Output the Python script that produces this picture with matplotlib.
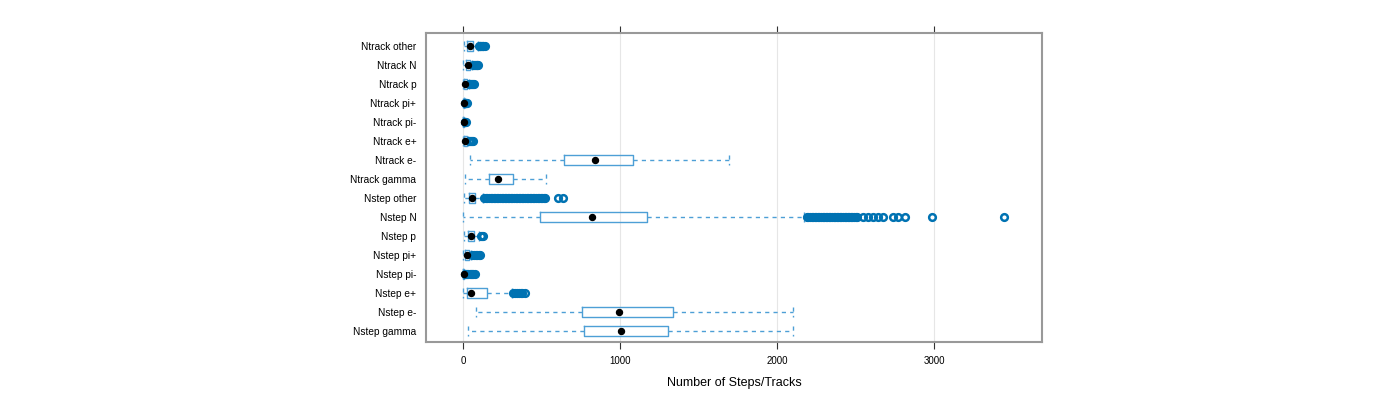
import matplotlib.pyplot as plt
import numpy as np

plt.rcParams['font.family'] = ['Liberation Sans', 'DejaVu Sans']

# rows from top to bottom
labels = ["Ntrack other", "Ntrack N", "Ntrack p", "Ntrack pi+", "Ntrack pi-", "Ntrack e+",
          "Ntrack e-", "Ntrack gamma", "Nstep other", "Nstep N", "Nstep p", "Nstep pi+",
          "Nstep pi-", "Nstep e+", "Nstep e-", "Nstep gamma"]

whislo = [3, 2, 1, 0, 0, 1, 45, 15, 5, 0, 5, 2, 0, 2, 83, 30]
q1 = [25, 18, 7, 3, 2, 6, 640, 168, 35, 490, 30, 12, 1, 27, 756, 770]
med = [45, 30, 15, 5, 4, 15, 840, 223, 60, 822, 51, 23, 3, 51, 992, 1006]
q3 = [65, 42, 24, 7, 6, 26, 1085, 317, 77, 1170, 70, 38, 5, 151, 1338, 1305]
whishi = [95, 58, 36, 10, 9, 34, 1695, 527, 125, 2170, 100, 50, 7, 310, 2105, 2105]

fliers = [
    [100, 105, 110, 115, 120, 125, 130, 138],
    [62, 68, 74, 80, 86, 92, 98],
    [40, 46, 52, 58, 64, 70],
    [12, 16, 20, 24],
    [11, 15, 19],
    [38, 44, 50, 56, 62],
    [],
    [],
    [135, 145, 155, 165, 175, 185, 195, 205, 215, 225, 235, 245, 255, 265, 275, 285, 295,
     305, 315, 325, 335, 345, 355, 365, 375, 385, 395, 405, 415, 425, 435, 445, 455, 465,
     475, 485, 495, 505, 515, 525, 605, 637],
    [2190, 2200, 2210, 2220, 2230, 2240, 2250, 2260, 2270, 2280, 2290, 2300, 2310, 2320,
     2330, 2340, 2350, 2360, 2370, 2380, 2390, 2400, 2410, 2420, 2430, 2440, 2450, 2460,
     2470, 2480, 2490, 2500, 2510, 2550, 2582, 2614, 2645, 2677,
     2741, 2773, 2815, 2987, 3446],
    [115, 122, 130],
    [60, 70, 80, 90, 100, 108],
    [10, 18, 26, 34, 42, 50, 58, 66, 75],
    [318, 330, 342, 354, 366, 378, 392],
    [],
    [],
]

box_col = "#4d9fd6"
pt_col = "#0072b2"

stats = []
for i in range(len(labels)):
    stats.append(dict(label=labels[i], whislo=whislo[i], q1=q1[i], med=med[i], q3=q3[i],
                      whishi=whishi[i], mean=med[i], fliers=fliers[i]))

fig = plt.figure(figsize=(14, 4), dpi=100)
ax = fig.add_axes([426 / 1400, 1 - 342 / 400, 616 / 1400, 309 / 400])

pos = np.arange(len(labels))
ax.bxp(stats, positions=pos, vert=False, widths=0.53, showmeans=True,
       boxprops=dict(color=box_col, linewidth=1.0),
       whiskerprops=dict(color=box_col, linewidth=1.0, linestyle=(0, (3, 3))),
       capprops=dict(color=box_col, linewidth=1.0, linestyle=(0, (3, 3))),
       medianprops=dict(linewidth=0),
       meanprops=dict(marker='o', markerfacecolor='black', markeredgecolor='black', markersize=4.3),
       flierprops=dict(marker='o', markerfacecolor='none', markeredgecolor=pt_col,
                       markersize=4.8, markeredgewidth=1.8),
       capwidths=0.53)

ax.set_xlim(-236, 3688)
ax.set_ylim(15.6, -0.68)
ax.set_xticks([0, 1000, 2000, 3000])
ax.set_yticks(pos)
ax.set_yticklabels(labels, fontsize=7.3)
ax.tick_params(axis='y', length=0, pad=7)
ax.tick_params(axis='x', direction='out', length=5, width=0.8, color='#333333',
               top=True, bottom=True, labelsize=7, pad=5)
ax.grid(axis='x', color='#e6e6e6', linewidth=0.8)
ax.set_axisbelow(True)
for s in ax.spines.values():
    s.set_color('#999999')
    s.set_linewidth(1.5)

ax.set_xlabel("Number of Steps/Tracks", fontsize=9, labelpad=8)

plt.savefig("out.png", dpi=100)
